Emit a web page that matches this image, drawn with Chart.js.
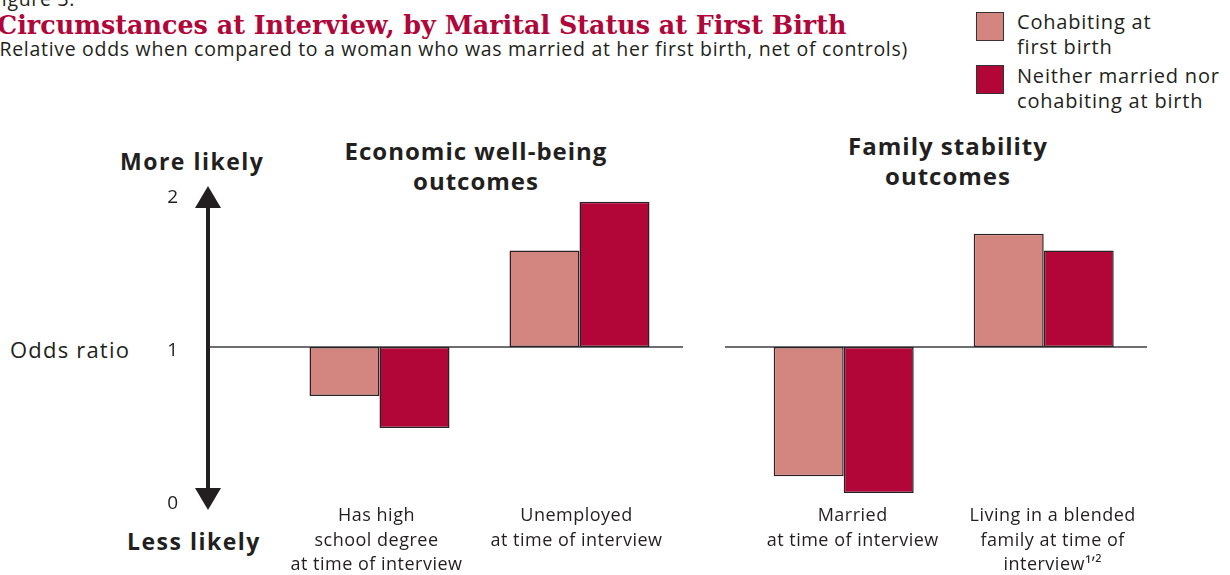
<!DOCTYPE html>
<html><head><meta charset="utf-8">
<script src="https://cdn.jsdelivr.net/npm/chart.js@4.4.1/dist/chart.umd.min.js"></script>
<style>
html,body{margin:0;padding:0;background:#fff;}
#wrap{position:relative;width:1230px;height:575px;overflow:hidden;font-family:"Open Sans",sans-serif;color:#231f20;}
.t{position:absolute;white-space:nowrap;line-height:1;}
.c{text-align:center;}
canvas{position:absolute;left:0;top:0;}
.sw{position:absolute;width:26px;height:27px;border:1.5px solid #3a3034;}
</style></head><body>
<div id="wrap">
 <div class="t" style="left:-9px;top:-11px;font-size:19.5px;letter-spacing:0.7px;">Figure 3.</div>
 <div class="t" style="left:-3px;top:13px;font-family:'DejaVu Serif';font-weight:bold;font-size:25.4px;color:#b0063a;">Circumstances at Interview, by Marital Status at First Birth</div>
 <div class="t" style="left:-7px;top:39px;font-size:19.5px;letter-spacing:0.7px;">(Relative odds when compared to a woman who was married at her first birth, net of controls)</div>

 <div class="sw" style="left:976px;top:12px;background:#d3857f;"></div>
 <div class="t" style="left:1017px;top:9px;font-size:20px;letter-spacing:0.8px;line-height:25px;">Cohabiting at<br>first birth</div>
 <div class="sw" style="left:976px;top:65px;background:#b10637;"></div>
 <div class="t" style="left:1017px;top:63px;font-size:20px;letter-spacing:0.8px;line-height:25px;">Neither married nor<br>cohabiting at birth</div>

 <div class="t c" style="left:276px;width:400px;top:136px;font-size:24px;letter-spacing:1px;font-weight:bold;line-height:30px;">Economic well-being<br>outcomes</div>
 <div class="t c" style="left:748px;width:400px;top:131px;font-size:24px;letter-spacing:1px;font-weight:bold;line-height:30px;">Family stability<br>outcomes</div>

 <div class="t" style="left:120px;top:150px;font-size:23px;letter-spacing:1.5px;font-weight:bold;">More likely</div>
 <div class="t" style="left:127px;top:530px;font-size:23px;letter-spacing:1.5px;font-weight:bold;">Less likely</div>
 <div class="t" style="left:10px;top:338px;font-size:22px;letter-spacing:1.2px;">Odds ratio</div>

 <canvas id="c1" width="1230" height="575"></canvas>
 <canvas id="c2" width="1230" height="575"></canvas>
</div>
<script>
// ---- data ----
const seriesLabels = ['Cohabiting at first birth', 'Neither married nor cohabiting at birth'];
const econCategories = [['Has high', 'school degree', 'at time of interview'], ['Unemployed', 'at time of interview']];
const econCohabiting = [0.68, 1.63];
const econNeither = [0.47, 1.95];
const familyCategories = [['Married', 'at time of interview'], ['Living in a blended', 'family at time of', 'interview\u00b9\u02bc\u00b2']];
const familyCohabiting = [0.155, 1.74];
const familyNeither = [0.046, 1.63];
const yTickValues = [0, 1, 2];
const referenceValue = 1;

const colors = ['#d3857f', '#b10637'];
const edge = '#2b2226';
const textColor = '#231f20';

function datasets(a, b) {
  return [a, b].map((vals, i) => ({
    label: seriesLabels[i],
    data: vals,
    base: referenceValue,
    backgroundColor: colors[i],
    borderColor: edge,
    borderWidth: 1.5,
    borderSkipped: false,
    categoryPercentage: 0.7,
    barPercentage: 1.0
  }));
}

// draws reference line, category labels, and (optionally) the y arrow with its tick values
const axisPlugin = (leftExtra, rightExtra, withArrow, labelOffset) => ({
  id: 'axisDecor',
  beforeDatasetsDraw(chart) {
    const {ctx, chartArea} = chart;
    const ys = chart.scales.y;
    const xs = chart.scales.x;
    const y1 = ys.getPixelForValue(referenceValue);
    ctx.save();
    ctx.strokeStyle = '#6d6e71';
    ctx.lineWidth = 2;
    ctx.beginPath();
    ctx.moveTo(chartArea.left - leftExtra, y1);
    ctx.lineTo(chartArea.right + rightExtra, y1);
    ctx.stroke();
    if (withArrow) {
      const ax = chartArea.left - leftExtra;
      const yTop = ys.getPixelForValue(yTickValues[yTickValues.length - 1]) - 8;
      const yBot = ys.getPixelForValue(yTickValues[0]) + 10;
      ctx.strokeStyle = textColor;
      ctx.fillStyle = textColor;
      ctx.lineWidth = 4;
      ctx.beginPath();
      ctx.moveTo(ax, yTop + 15);
      ctx.lineTo(ax, yBot - 15);
      ctx.stroke();
      ctx.beginPath();
      ctx.moveTo(ax, yTop); ctx.lineTo(ax - 13, yTop + 22); ctx.lineTo(ax + 13, yTop + 22); ctx.closePath(); ctx.fill();
      ctx.beginPath();
      ctx.moveTo(ax, yBot); ctx.lineTo(ax - 13, yBot - 22); ctx.lineTo(ax + 13, yBot - 22); ctx.closePath(); ctx.fill();
      ctx.font = '19px "Open Sans"';
      ctx.textAlign = 'right';
      ctx.textBaseline = 'middle';
      yTickValues.forEach(v => ctx.fillText(String(v), ax - 30, ys.getPixelForValue(v) + 4));
    }
    ctx.fillStyle = textColor;
    ctx.font = '18px "Open Sans"';
    ctx.letterSpacing = '0.5px';
    ctx.textAlign = 'center';
    ctx.textBaseline = 'middle';
    chart.data.labels.forEach((lines, i) => {
      const x = xs.getPixelForValue(i) + labelOffset;
      lines.forEach((ln, j) => ctx.fillText(ln, x, chartArea.bottom + 16 + j * 24.5));
    });
    ctx.restore();
  }
});

function makeChart(id, cats, a, b, pad, plugin) {
  return new Chart(document.getElementById(id), {
    type: 'bar',
    data: { labels: cats, datasets: datasets(a, b) },
    options: {
      responsive: false,
      animation: false,
      layout: { padding: pad },
      plugins: { legend: { display: false }, tooltip: { enabled: false }, title: { display: false } },
      scales: {
        x: { display: false, offset: true },
        y: { display: false, min: yTickValues[0], max: yTickValues[yTickValues.length - 1] }
      }
    },
    plugins: [plugin]
  });
}

makeChart('c1', econCategories, econCohabiting, econNeither,
  { left: 279.5, right: 550.5, top: 194, bottom: 75 }, axisPlugin(71.5, 3.5, true, -3));
makeChart('c2', familyCategories, familyCohabiting, familyNeither,
  { left: 743.7, right: 86.3, top: 194, bottom: 75 }, axisPlugin(18.7, 3.3, false, 9));
</script>
</body></html>
